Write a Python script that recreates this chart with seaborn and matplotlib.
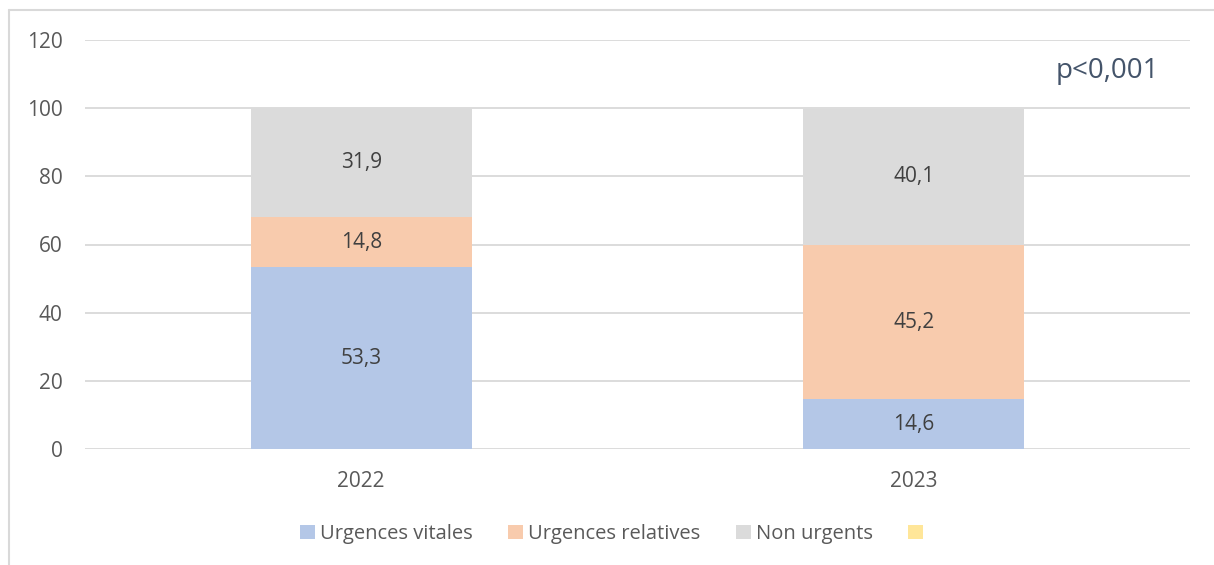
import pandas as pd
import matplotlib.pyplot as plt
import seaborn as sns
from matplotlib.lines import Line2D
from matplotlib.patches import Patch

# données
annees = ['2022', '2023']
categories = ['Urgences vitales', 'Urgences relatives', 'Non urgents']
vitales = [53.3, 14.6]
relatives = [14.8, 45.2]
non_urgents = [31.9, 40.1]
couleurs = ['#B4C7E7', '#F8CBAD', '#DBDBDB']
couleur_vide = '#FFE699'

sns.set_theme(style='white')
plt.rcParams['font.family'] = ['Open Sans', 'DejaVu Sans']

fig = plt.figure(figsize=(12.14, 5.65), dpi=100)
ax = fig.add_axes([85 / 1214, 1 - 449 / 565, 1105 / 1214, 409 / 565])

series = [vitales, relatives, non_urgents]
bas = [0.0, 0.0]
for nom, vals, col in zip(categories, series, couleurs):
    df = pd.DataFrame({'annee': annees, 'val': vals})
    sns.barplot(data=df, x='annee', y='val', color=col, width=0.4,
                bottom=bas, saturation=1, ax=ax, zorder=3, linewidth=0)
    for i, v in enumerate(vals):
        ax.text(i, bas[i] + v / 2, f'{v:.1f}'.replace('.', ','),
                ha='center', va='center', fontsize=15, color='#404040', zorder=4)
    bas = [b + v for b, v in zip(bas, vals)]

ax.set_ylim(0, 120)
ax.set_yticks(range(0, 121, 20))
ax.set_xlim(-0.5, 1.5)
ax.yaxis.grid(True, color='#D9D9D9', linewidth=1.3, zorder=0)
ax.set_axisbelow(True)
for s in ax.spines.values():
    s.set_visible(False)
ax.set_xlabel('')
ax.set_ylabel('')
ax.tick_params(axis='both', length=0, labelsize=15, labelcolor='#595959')
ax.tick_params(axis='y', pad=16)
ax.tick_params(axis='x', pad=16)

ax.text(1.445, 111, 'p<0,001', ha='right', va='center', fontsize=20, color='#44546A')

# légende
poignees = [Patch(facecolor=c, edgecolor='none') for c in couleurs]
poignees.append(Patch(facecolor=couleur_vide, edgecolor='none'))
fig.legend(poignees, categories + [''], loc='center', bbox_to_anchor=(614 / 1214, 1 - 534 / 565),
           ncol=4, frameon=False, fontsize=14.5, handlelength=0.75, handleheight=0.75,
           handletextpad=0.25, columnspacing=1.75, labelcolor='#595959')

# cadre du graphique
fig.add_artist(Line2D([9 / 1214, 1], [1 - 10 / 565, 1 - 10 / 565], color='#D9D9D9', linewidth=1.5))
fig.add_artist(Line2D([9 / 1214, 9 / 1214], [0, 1 - 10 / 565], color='#D9D9D9', linewidth=1.5))

fig.savefig('out.png', dpi=100)
